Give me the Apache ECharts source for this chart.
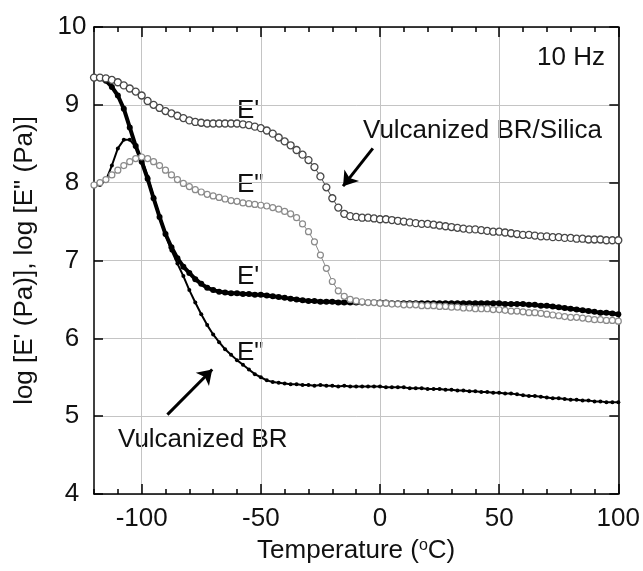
<!DOCTYPE html>
<html>
<head>
<meta charset="utf-8">
<script src="https://cdn.jsdelivr.net/npm/echarts@6/dist/echarts.min.js"></script>
<style>html,body{margin:0;padding:0;background:#fff;}#c{width:643px;height:571px;}</style>
</head>
<body>
<div id="c"></div>
<script>
// Temperature (°C)
var temps = [
  -120,-117.5,-115,-112.5,-110,-107.5,-105,-102.5,-100,-97.5,
  -95,-92.5,-90,-87.5,-85,-82.5,-80,-77.5,-75,-72.5,
  -70,-67.5,-65,-62.5,-60,-57.5,-55,-52.5,-50,-47.5,
  -45,-42.5,-40,-37.5,-35,-32.5,-30,-27.5,-25,-22.5,
  -20,-17.5,-15,-12.5,-10,-7.5,-5,-2.5,0,2.5,
  5,7.5,10,12.5,15,17.5,20,22.5,25,27.5,
  30,32.5,35,37.5,40,42.5,45,47.5,50,52.5,
  55,57.5,60,62.5,65,67.5,70,72.5,75,77.5,
  80,82.5,85,87.5,90,92.5,95,97.5,100
];
// Vulcanized BR/Silica, log E'
var silicaEp = [
  9.35,9.35,9.34,9.32,9.29,9.25,9.21,9.17,9.12,9.05,
  9.00,8.96,8.92,8.89,8.86,8.83,8.80,8.78,8.77,8.76,
  8.76,8.76,8.76,8.76,8.76,8.75,8.74,8.72,8.70,8.67,
  8.63,8.58,8.53,8.48,8.42,8.36,8.29,8.20,8.08,7.94,
  7.80,7.68,7.60,7.57,7.56,7.55,7.55,7.54,7.53,7.53,
  7.52,7.51,7.50,7.49,7.48,7.47,7.47,7.46,7.45,7.44,
  7.43,7.42,7.41,7.40,7.40,7.39,7.38,7.37,7.37,7.36,
  7.35,7.34,7.33,7.33,7.32,7.31,7.31,7.30,7.30,7.29,
  7.29,7.28,7.28,7.27,7.27,7.27,7.26,7.26,7.26
];
// Vulcanized BR/Silica, log E''
var silicaEpp = [
  7.97,8.00,8.04,8.10,8.16,8.22,8.27,8.31,8.33,8.31,
  8.27,8.22,8.16,8.10,8.04,7.99,7.95,7.91,7.88,7.85,
  7.83,7.81,7.79,7.77,7.76,7.74,7.73,7.72,7.71,7.70,
  7.68,7.66,7.63,7.60,7.55,7.47,7.37,7.24,7.07,6.90,
  6.73,6.61,6.54,6.50,6.48,6.47,6.46,6.46,6.45,6.45,
  6.44,6.44,6.43,6.43,6.43,6.42,6.42,6.42,6.41,6.41,
  6.40,6.40,6.39,6.39,6.38,6.38,6.38,6.37,6.37,6.36,
  6.35,6.35,6.34,6.33,6.33,6.32,6.31,6.30,6.29,6.28,
  6.27,6.27,6.26,6.25,6.24,6.24,6.23,6.23,6.22
];
// Vulcanized BR, log E'
var brEp = [
  9.35,9.34,9.31,9.23,9.12,8.95,8.71,8.47,8.27,8.05,
  7.80,7.56,7.34,7.17,7.03,6.92,6.84,6.76,6.70,6.65,
  6.62,6.60,6.59,6.58,6.58,6.57,6.57,6.56,6.56,6.55,
  6.54,6.53,6.52,6.51,6.50,6.49,6.48,6.48,6.47,6.47,
  6.47,6.46,6.46,6.46,6.46,6.46,6.46,6.46,6.46,6.46,
  6.45,6.45,6.45,6.45,6.45,6.45,6.45,6.45,6.45,6.45,
  6.45,6.45,6.45,6.45,6.45,6.45,6.45,6.45,6.45,6.44,
  6.44,6.44,6.44,6.43,6.43,6.42,6.42,6.41,6.40,6.39,
  6.38,6.37,6.36,6.35,6.34,6.33,6.33,6.32,6.31
];
// Vulcanized BR, log E''
var brEpp = [
  7.96,7.97,8.03,8.22,8.44,8.55,8.55,8.46,8.32,8.08,
  7.82,7.57,7.33,7.13,6.96,6.80,6.62,6.46,6.31,6.17,
  6.05,5.95,5.86,5.79,5.72,5.66,5.60,5.54,5.50,5.46,
  5.44,5.43,5.42,5.41,5.41,5.40,5.40,5.39,5.40,5.39,
  5.39,5.38,5.39,5.38,5.38,5.38,5.38,5.38,5.38,5.37,
  5.37,5.37,5.37,5.36,5.36,5.36,5.35,5.35,5.35,5.34,
  5.34,5.33,5.33,5.32,5.32,5.31,5.31,5.30,5.30,5.29,
  5.29,5.28,5.27,5.26,5.26,5.25,5.24,5.23,5.23,5.22,
  5.21,5.21,5.20,5.20,5.19,5.19,5.18,5.18,5.18
];
var xMajorTicks = [-100, -50, 0, 50, 100];
var arrowSilica = [[-3.0, 8.44], [-15.5, 7.955]];
var arrowBR = [[-89.2, 5.02], [-70.4, 5.60]];

var FONT = "'Liberation Sans', Arial, Helvetica, sans-serif";
function pairs(ys) { return temps.map(function (t, i) { return [t, ys[i]]; }); }

var chart = echarts.init(document.getElementById('c'), null, { renderer: 'canvas' });
var axisLineStyle = { color: '#000', width: 1.5 };
var gridLine = { show: true, lineStyle: { color: '#c4c4c4', width: 1 } };

var option = {
  animation: false,
  backgroundColor: '#fff',
  grid: { left: 94, right: 23, top: 27, bottom: 77 },
  xAxis: [
    { type: 'value', position: 'bottom', min: -120, max: 100, interval: 10,
      axisLine: { show: true, onZero: false, lineStyle: axisLineStyle },
      axisTick: { show: true, inside: true, length: 5, lineStyle: axisLineStyle },
      axisLabel: { show: false },
      splitLine: { show: false },
      name: 'Temperature ({s|o}C)', nameLocation: 'middle', nameGap: 44,
      nameTextStyle: { fontFamily: FONT, fontSize: 26, color: '#111',
        rich: { s: { fontFamily: FONT, fontSize: 16, color: '#111', verticalAlign: 'top', padding: [0, 0, 10, 0] } } }
    },
    { type: 'value', position: 'bottom', min: -120, max: 100,
      axisLine: { show: false, onZero: false },
      axisTick: { show: true, inside: true, length: 10, lineStyle: axisLineStyle, customValues: xMajorTicks },
      axisLabel: { show: true, customValues: xMajorTicks, fontFamily: FONT, fontSize: 26, color: '#111', margin: 12 },
      splitLine: gridLine
    },
    { type: 'value', position: 'top', min: -120, max: 100, interval: 10,
      axisLine: { show: true, onZero: false, lineStyle: axisLineStyle },
      axisTick: { show: true, inside: true, length: 5, lineStyle: axisLineStyle },
      axisLabel: { show: false }, splitLine: { show: false }
    },
    { type: 'value', position: 'top', min: -120, max: 100,
      axisLine: { show: false, onZero: false },
      axisTick: { show: true, inside: true, length: 10, lineStyle: axisLineStyle, customValues: xMajorTicks },
      axisLabel: { show: false }, splitLine: { show: false }
    }
  ],
  yAxis: [
    { type: 'value', position: 'left', min: 4, max: 10, interval: 1,
      axisLine: { show: true, onZero: false, lineStyle: axisLineStyle },
      axisTick: { show: true, inside: true, length: 9, lineStyle: axisLineStyle },
      axisLabel: { fontFamily: FONT, fontSize: 26, color: '#111', align: 'center', margin: 22 },
      splitLine: gridLine,
      name: 'log [E\' (Pa)], log [E" (Pa)]', nameLocation: 'middle', nameGap: 56,
      nameTextStyle: { fontFamily: FONT, fontSize: 26, color: '#111' }
    },
    { type: 'value', position: 'right', min: 4, max: 10, interval: 1,
      axisLine: { show: true, onZero: false, lineStyle: axisLineStyle },
      axisTick: { show: true, inside: true, length: 9, lineStyle: axisLineStyle },
      axisLabel: { show: false }, splitLine: { show: false }
    }
  ],
  series: [
    { name: "BR E'", type: 'line', xAxisIndex: 0, yAxisIndex: 0, data: pairs(brEp),
      symbol: 'circle', symbolSize: 6, showSymbol: true, showAllSymbol: true,
      itemStyle: { color: '#000' }, lineStyle: { color: '#000', width: 4 }, emphasis: { disabled: true } },
    { name: "BR E''", type: 'line', xAxisIndex: 0, yAxisIndex: 0, data: pairs(brEpp),
      symbol: 'circle', symbolSize: 4, showSymbol: true, showAllSymbol: true,
      itemStyle: { color: '#000' }, lineStyle: { color: '#000', width: 2 }, emphasis: { disabled: true },
      markLine: { silent: true, symbol: ['none', 'arrow'], symbolSize: 14, label: { show: false },
        lineStyle: { color: '#000', width: 3, type: 'solid' },
        data: [
          [{ coord: arrowSilica[0] }, { coord: arrowSilica[1] }],
          [{ coord: arrowBR[0] }, { coord: arrowBR[1] }]
        ] } },
    { name: "BR/Silica E''", type: 'line', xAxisIndex: 0, yAxisIndex: 0, data: pairs(silicaEpp),
      symbol: 'circle', symbolSize: 6, showSymbol: true, showAllSymbol: true,
      itemStyle: { color: '#fff', borderColor: '#8a8a8a', borderWidth: 1.2 },
      lineStyle: { color: '#8a8a8a', width: 1 }, emphasis: { disabled: true } },
    { name: "BR/Silica E'", type: 'line', xAxisIndex: 0, yAxisIndex: 0, data: pairs(silicaEp),
      symbol: 'circle', symbolSize: 7, showSymbol: true, showAllSymbol: true,
      itemStyle: { color: '#fff', borderColor: '#474747', borderWidth: 1.3 },
      lineStyle: { color: '#474747', width: 1 }, emphasis: { disabled: true } }
  ],
  graphic: [
    { type: 'text', left: 537, top: 45, style: { text: '10 Hz', font: '26px ' + FONT, fill: '#111' } },
    { type: 'text', left: 363, top: 118, style: { text: 'Vulcanized BR/Silica', font: '26px ' + FONT, fill: '#111' } },
    { type: 'text', left: 118, top: 427, style: { text: 'Vulcanized BR', font: '26px ' + FONT, fill: '#111' } },
    { type: 'text', left: 237, top: 98, style: { text: "E'", font: '26px ' + FONT, fill: '#111' } },
    { type: 'text', left: 237, top: 172, style: { text: 'E"', font: '26px ' + FONT, fill: '#111' } },
    { type: 'text', left: 237, top: 264, style: { text: "E'", font: '26px ' + FONT, fill: '#111' } },
    { type: 'text', left: 237, top: 340, style: { text: 'E"', font: '26px ' + FONT, fill: '#111' } }
  ]
};
chart.setOption(option);
</script>
</body>
</html>
